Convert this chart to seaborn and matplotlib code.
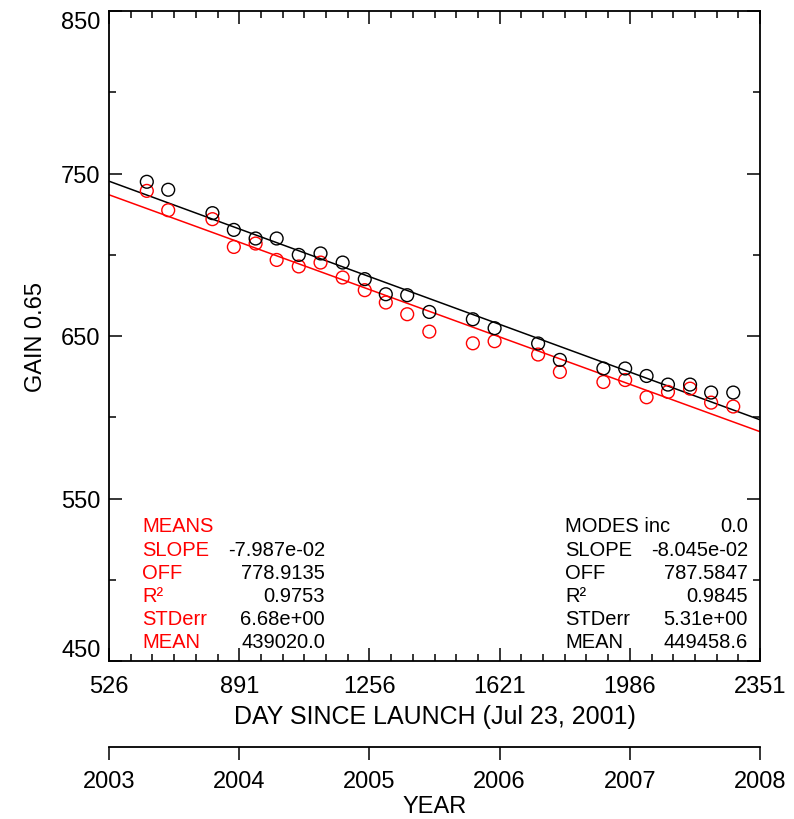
import numpy as np
import pandas as pd
import matplotlib
matplotlib.use("Agg")
import matplotlib.pyplot as plt
import seaborn as sns
from matplotlib.ticker import MultipleLocator, FixedLocator

# ---------------- data ----------------
days = [632, 692, 816, 876, 937, 996, 1058, 1119, 1181, 1243, 1302, 1362,
        1424, 1546, 1607, 1729, 1790, 1912, 1973, 2033, 2093, 2155, 2214, 2276]
gain_modes = [744.9, 740.0, 725.6, 715.3, 710.0, 710.0, 699.9, 700.8, 695.2,
              685.0, 675.7, 675.1, 664.8, 660.3, 654.8, 645.4, 635.3, 630.0,
              630.0, 625.4, 620.1, 620.1, 615.2, 615.2]
gain_means = [739.3, 727.4, 721.9, 704.8, 706.9, 696.8, 692.8, 695.2, 686.0,
              678.2, 670.6, 663.4, 652.7, 645.5, 646.8, 638.6, 627.9, 621.7,
              622.9, 612.3, 615.6, 617.6, 609.0, 606.6]

fit_means = {"slope": -7.987e-02, "off": 778.9135}
fit_modes = {"slope": -8.045e-02, "off": 787.5847}

stat_labels = ["SLOPE", "OFF", "R\u00b2", "STDerr", "MEAN"]
means_values = ["-7.987e-02", "778.9135", "0.9753", "6.68e+00", "439020.0"]
modes_values = ["-8.045e-02", "787.5847", "0.9845", "5.31e+00", "449458.6"]

day_ticks = [526, 891, 1256, 1621, 1986, 2351]
year_ticks = [2003, 2004, 2005, 2006, 2007, 2008]
y_ticks = [450, 550, 650, 750, 850]

# ---------------- style ----------------
sns.set_theme(style="ticks")
plt.rcParams["font.family"] = ["Liberation Sans", "DejaVu Sans"]
plt.rcParams["text.color"] = "black"
plt.rcParams["axes.labelcolor"] = "black"
plt.rcParams["xtick.color"] = "black"
plt.rcParams["ytick.color"] = "black"

W, H = 794, 820
fig = plt.figure(figsize=(W / 100, H / 100), dpi=100)
L, R, T, B = 109, 760, 12, 662
ax = fig.add_axes([L / W, 1 - B / H, (R - L) / W, (B - T) / H])

df = pd.DataFrame({"day": days, "modes": gain_modes, "means": gain_means})

xl = np.array([day_ticks[0], day_ticks[-1]], dtype=float)
line_df = pd.DataFrame({
    "day": xl,
    "modes": fit_modes["off"] + fit_modes["slope"] * xl,
    "means": fit_means["off"] + fit_means["slope"] * xl,
})
sns.lineplot(data=line_df, x="day", y="means", color="red", lw=1.1, ax=ax)
sns.lineplot(data=line_df, x="day", y="modes", color="black", lw=1.1, ax=ax)

sns.scatterplot(data=df, x="day", y="means", marker="o", s=85,
                facecolor="none", edgecolor="red", linewidth=1.0, ax=ax, zorder=3)
sns.scatterplot(data=df, x="day", y="modes", marker="o", s=85,
                facecolor="none", edgecolor="black", linewidth=1.0, ax=ax, zorder=4)

ax.set_xlim(day_ticks[0], day_ticks[-1])
ax.set_ylim(y_ticks[0], y_ticks[-1])
ax.xaxis.set_major_locator(FixedLocator(day_ticks))
ax.xaxis.set_minor_locator(FixedLocator(
    [day_ticks[0] + 365 * k / 6 for k in range(31)]))
ax.yaxis.set_major_locator(FixedLocator(y_ticks))
ax.yaxis.set_minor_locator(MultipleLocator(50))
ax.set_xticklabels([str(t) for t in day_ticks])
ylabs = ax.set_yticklabels([str(t) for t in y_ticks])
ylabs[0].set_va("bottom")
ylabs[-1].set_va("top")

for s in ax.spines.values():
    s.set_visible(True)
    s.set_linewidth(1.3)
    s.set_color("black")
ax.tick_params(which="both", direction="in", top=True, right=True,
               color="black", width=1.1)
ax.tick_params(which="major", length=9.5, labelsize=17)
ax.tick_params(axis="x", which="major", pad=10)
ax.tick_params(axis="y", which="major", pad=6)
ax.tick_params(which="minor", length=5)
ax.set_facecolor("white")

ax.set_xlabel("DAY SINCE LAUNCH (Jul 23, 2001)", fontsize=18, labelpad=5)
ax.set_ylabel("GAIN 0.65", fontsize=17, labelpad=10)

# ---------------- stats text ----------------
fs = 14.5
row0 = 527
dy = 23.2
def px(xp, yp):
    return (xp - L) / (R - L), (B - yp) / (B - T)

x0, y0 = px(142, row0)
ax.text(x0, y0, "MEANS", color="red", fontsize=fs, transform=ax.transAxes,
        ha="left", va="center")
x1, _ = px(565, row0)
x2, _ = px(748, row0)
ax.text(x1, y0, "MODES inc", color="black", fontsize=fs, transform=ax.transAxes,
        ha="left", va="center")
ax.text(x2, y0, "0.0", color="black", fontsize=fs, transform=ax.transAxes,
        ha="right", va="center")
xv, _ = px(325, row0)
for i, lab in enumerate(stat_labels):
    _, yy = px(0, row0 + dy * (i + 1))
    ax.text(x0, yy, lab, color="red", fontsize=fs, transform=ax.transAxes,
            ha="left", va="center")
    ax.text(xv, yy, means_values[i], color="black", fontsize=fs,
            transform=ax.transAxes, ha="right", va="center")
    ax.text(x1, yy, lab, color="black", fontsize=fs, transform=ax.transAxes,
            ha="left", va="center")
    ax.text(x2, yy, modes_values[i], color="black", fontsize=fs,
            transform=ax.transAxes, ha="right", va="center")

# ---------------- year axis ----------------
YL = 748
ax2 = fig.add_axes([L / W, 1 - YL / H, (R - L) / W, 0.0001])
ax2.set_xlim(year_ticks[0], year_ticks[-1])
ax2.set_yticks([])
for k in ["top", "left", "right"]:
    ax2.spines[k].set_visible(False)
ax2.spines["bottom"].set_visible(True)
ax2.spines["bottom"].set_linewidth(1.3)
ax2.spines["bottom"].set_color("black")
ax2.set_facecolor("none")
ax2.set_xticks(year_ticks)
ax2.set_xticklabels([str(t) for t in year_ticks])
ax2.tick_params(axis="x", direction="out", length=9.5, width=1.1,
                labelsize=17, pad=7, color="black", bottom=True)
ax2.set_xlabel("YEAR", fontsize=17, labelpad=2)

fig.savefig("out.png", dpi=100, facecolor="white")
